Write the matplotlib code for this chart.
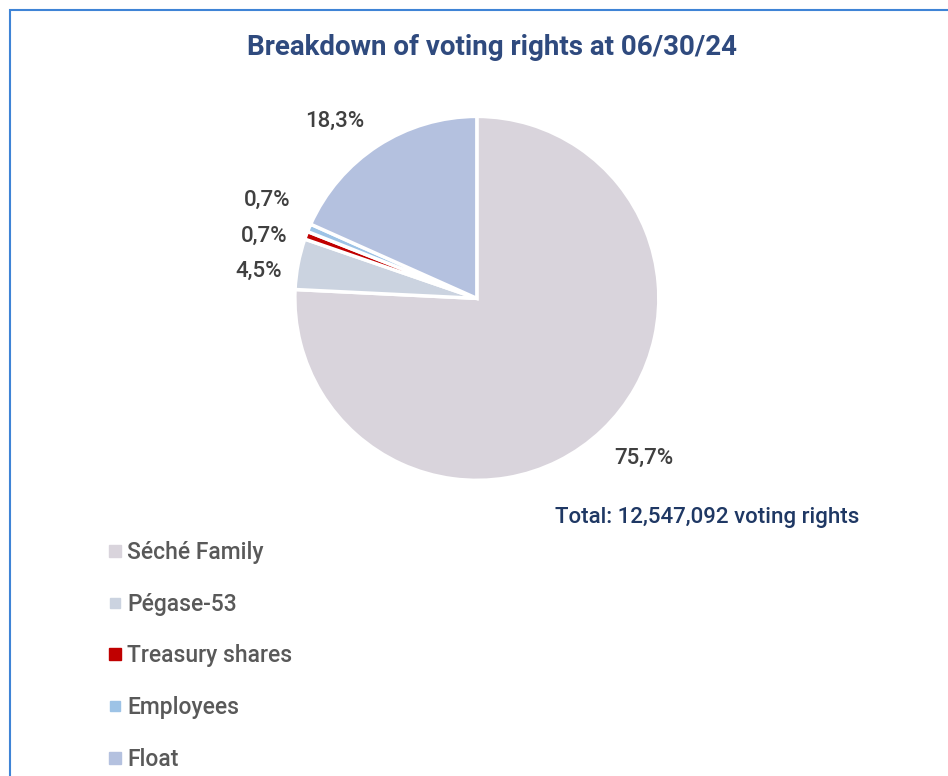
import matplotlib.pyplot as plt
from matplotlib.lines import Line2D

# data
holders = ['Séché Family', 'Pégase-53', 'Treasury shares', 'Employees', 'Float']
shares = [75.7, 4.5, 0.7, 0.7, 18.3]
share_labels = ['75,7%', '4,5%', '0,7%', '0,7%', '18,3%']
colors = ['#D9D4DC', '#CBD3E0', '#C00000', '#9DC3E6', '#B4C1DF']
title = 'Breakdown of voting rights at 06/30/24'
total_text = 'Total: 12,547,092 voting rights'

plt.rcParams['font.family'] = ['Roboto', 'DejaVu Sans']

fig = plt.figure(figsize=(9.48, 7.76), dpi=100)

# blue frame (left and top edges visible)
frame = plt.Rectangle((10 / 948, -0.05), 1.2, 1 - 10 / 776 + 0.05, transform=fig.transFigure,
                      fill=False, edgecolor='#3F84D6', linewidth=1.5)
fig.patches.append(frame)

ax = fig.add_axes([0.311, 0.381, 0.384, 0.469])
ax.pie(shares, colors=colors, startangle=90, counterclock=False,
       wedgeprops=dict(edgecolor='white', linewidth=2.5))
ax.set_xlim(-1, 1)
ax.set_ylim(-1, 1)
ax.set_aspect('equal')
ax.axis('off')

# label placement (axes data units)
label_pos = [(0.92, -0.88), (-1.20, 0.15), (-1.17, 0.34), (-1.15, 0.54), (-0.78, 0.97)]
for (x, y), txt in zip(label_pos, share_labels):
    ax.text(x, y, txt, ha='center', va='center', fontsize=16, color='#404040',
            fontweight='medium', clip_on=False)

fig.text(0.519, 0.939, title, ha='center', va='center', fontsize=20,
         fontweight='bold', color='#2F4A7E')
fig.text(0.585, 0.333, total_text, ha='left', va='center', fontsize=16,
         fontweight='medium', color='#1F3864')

msizes = [8.5, 6.5, 8.5, 6.5, 8.5]
handles = [Line2D([], [], linestyle='none', marker='s', markersize=m, markerfacecolor=c,
                  markeredgecolor=c) for c, m in zip(colors, msizes)]
leg = fig.legend(handles, holders, loc='upper left', bbox_to_anchor=(0.104, 0.315),
                 frameon=False, fontsize=16.5, labelcolor='#595959', labelspacing=1.26,
                 handlelength=0.6, handletextpad=0.25, borderaxespad=0)
for t in leg.get_texts():
    t.set_fontweight('medium')

fig.savefig('out.png', dpi=100)
